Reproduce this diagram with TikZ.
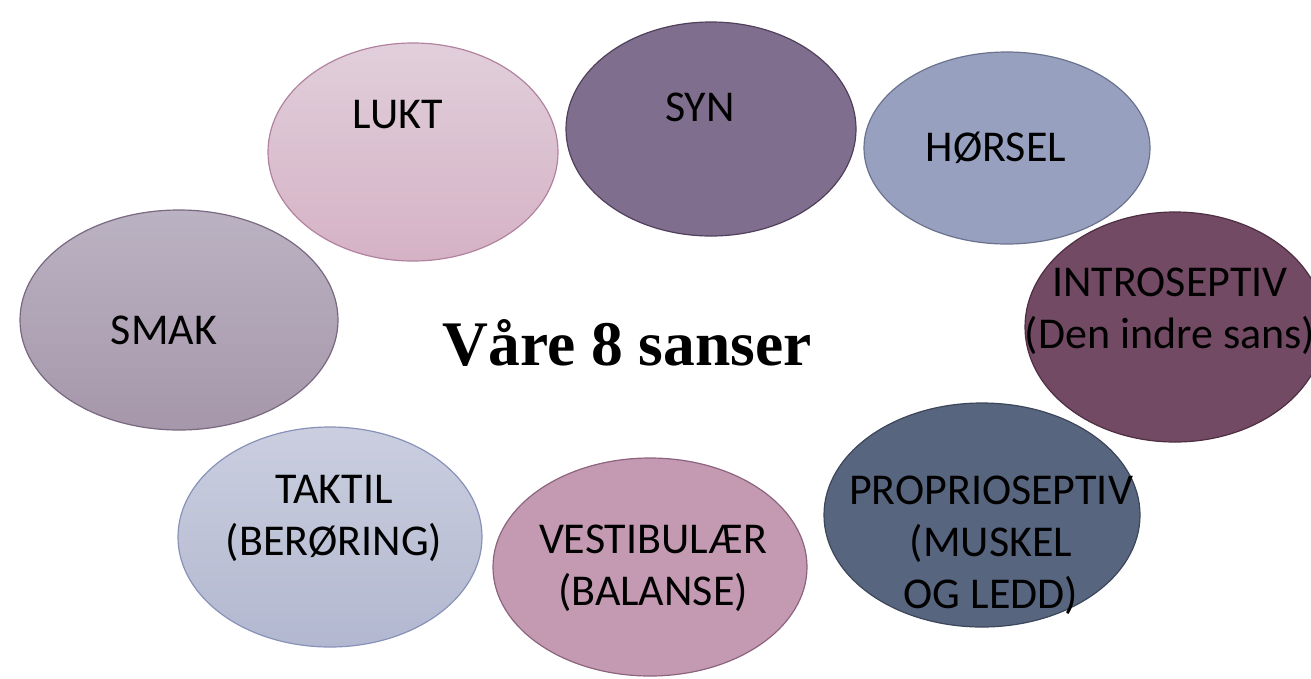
\documentclass[tikz,border=0pt]{standalone}
\usepackage{fontspec}
\setmainfont{Carlito}
\newfontfamily\titlefont{Liberation Serif}
\usetikzlibrary{shapes.geometric}

\definecolor{luktTop}{RGB}{225,207,219}
\definecolor{luktBot}{RGB}{213,178,197}
\definecolor{luktLine}{RGB}{178,130,158}
\definecolor{synFill}{RGB}{127,110,141}
\definecolor{synLine}{RGB}{80,64,92}
\definecolor{horselFill}{RGB}{151,160,190}
\definecolor{horselLine}{RGB}{106,114,142}
\definecolor{introFill}{RGB}{115,74,99}
\definecolor{introLine}{RGB}{78,46,66}
\definecolor{proprioFill}{RGB}{88,101,127}
\definecolor{proprioLine}{RGB}{60,70,90}
\definecolor{vestibFill}{RGB}{196,154,178}
\definecolor{vestibLine}{RGB}{140,100,126}
\definecolor{taktilTop}{RGB}{202,206,223}
\definecolor{taktilBot}{RGB}{178,184,208}
\definecolor{taktilLine}{RGB}{136,146,184}
\definecolor{smakTop}{RGB}{186,178,194}
\definecolor{smakBot}{RGB}{166,151,170}
\definecolor{smakLine}{RGB}{120,104,128}

\begin{document}
\begin{tikzpicture}[x=1pt,y=-1pt,
    sense node/.style={ellipse,draw,line width=1.2pt,inner sep=0pt},
    sense text/.style={align=center,inner sep=0pt,font=\fontsize{44}{52}\selectfont}]
\useasboundingbox (0,0) rectangle (1311,678);

% the eight senses
\node[sense node,minimum width=290pt,minimum height=218pt,top color=luktTop,bottom color=luktBot,draw=luktLine] (lukt) at (413,152) {};
\node[sense node,minimum width=290pt,minimum height=214pt,fill=synFill,draw=synLine] (syn) at (711,129) {};
\node[sense node,minimum width=286pt,minimum height=192pt,fill=horselFill,draw=horselLine] (horsel) at (1007,148) {};
\node[sense node,minimum width=300pt,minimum height=230pt,fill=introFill,draw=introLine] (intro) at (1175,327) {};
\node[sense node,minimum width=316pt,minimum height=224pt,fill=proprioFill,draw=proprioLine] (proprio) at (982,515) {};
\node[sense node,minimum width=314pt,minimum height=218pt,fill=vestibFill,draw=vestibLine] (vestib) at (650,567) {};
\node[sense node,minimum width=304pt,minimum height=220pt,top color=taktilTop,bottom color=taktilBot,draw=taktilLine] (taktil) at (330,537) {};
\node[sense node,minimum width=318pt,minimum height=220pt,top color=smakTop,bottom color=smakBot,draw=smakLine] (smak) at (179,320) {};

% labels
\node[sense text] (luktTxt) at (398,115) {LUKT};
\node[sense text] (synTxt) at (700,107) {SYN};
\node[sense text] (horselTxt) at (996,148) {HØRSEL};
\node[sense text] (introTxt) at (1170,311) {INTROSEPTIV\\(Den indre sans)};
\node[sense text] (proprioTxt) at (991,545) {PROPRIOSEPTIV\\(MUSKEL\\OG LEDD)};
\node[sense text] (vestibTxt) at (653,568) {VESTIBULÆR\\(BALANSE)};
\node[sense text] (taktilTxt) at (334,518) {TAKTIL\\(BERØRING)};
\node[sense text] (smakTxt) at (164,330) {SMAK};

\node[inner sep=0pt,anchor=base,font=\titlefont\bfseries\fontsize{63.5}{70}\selectfont] (title) at (627,365) {Våre 8 sanser};
\end{tikzpicture}
\end{document}
